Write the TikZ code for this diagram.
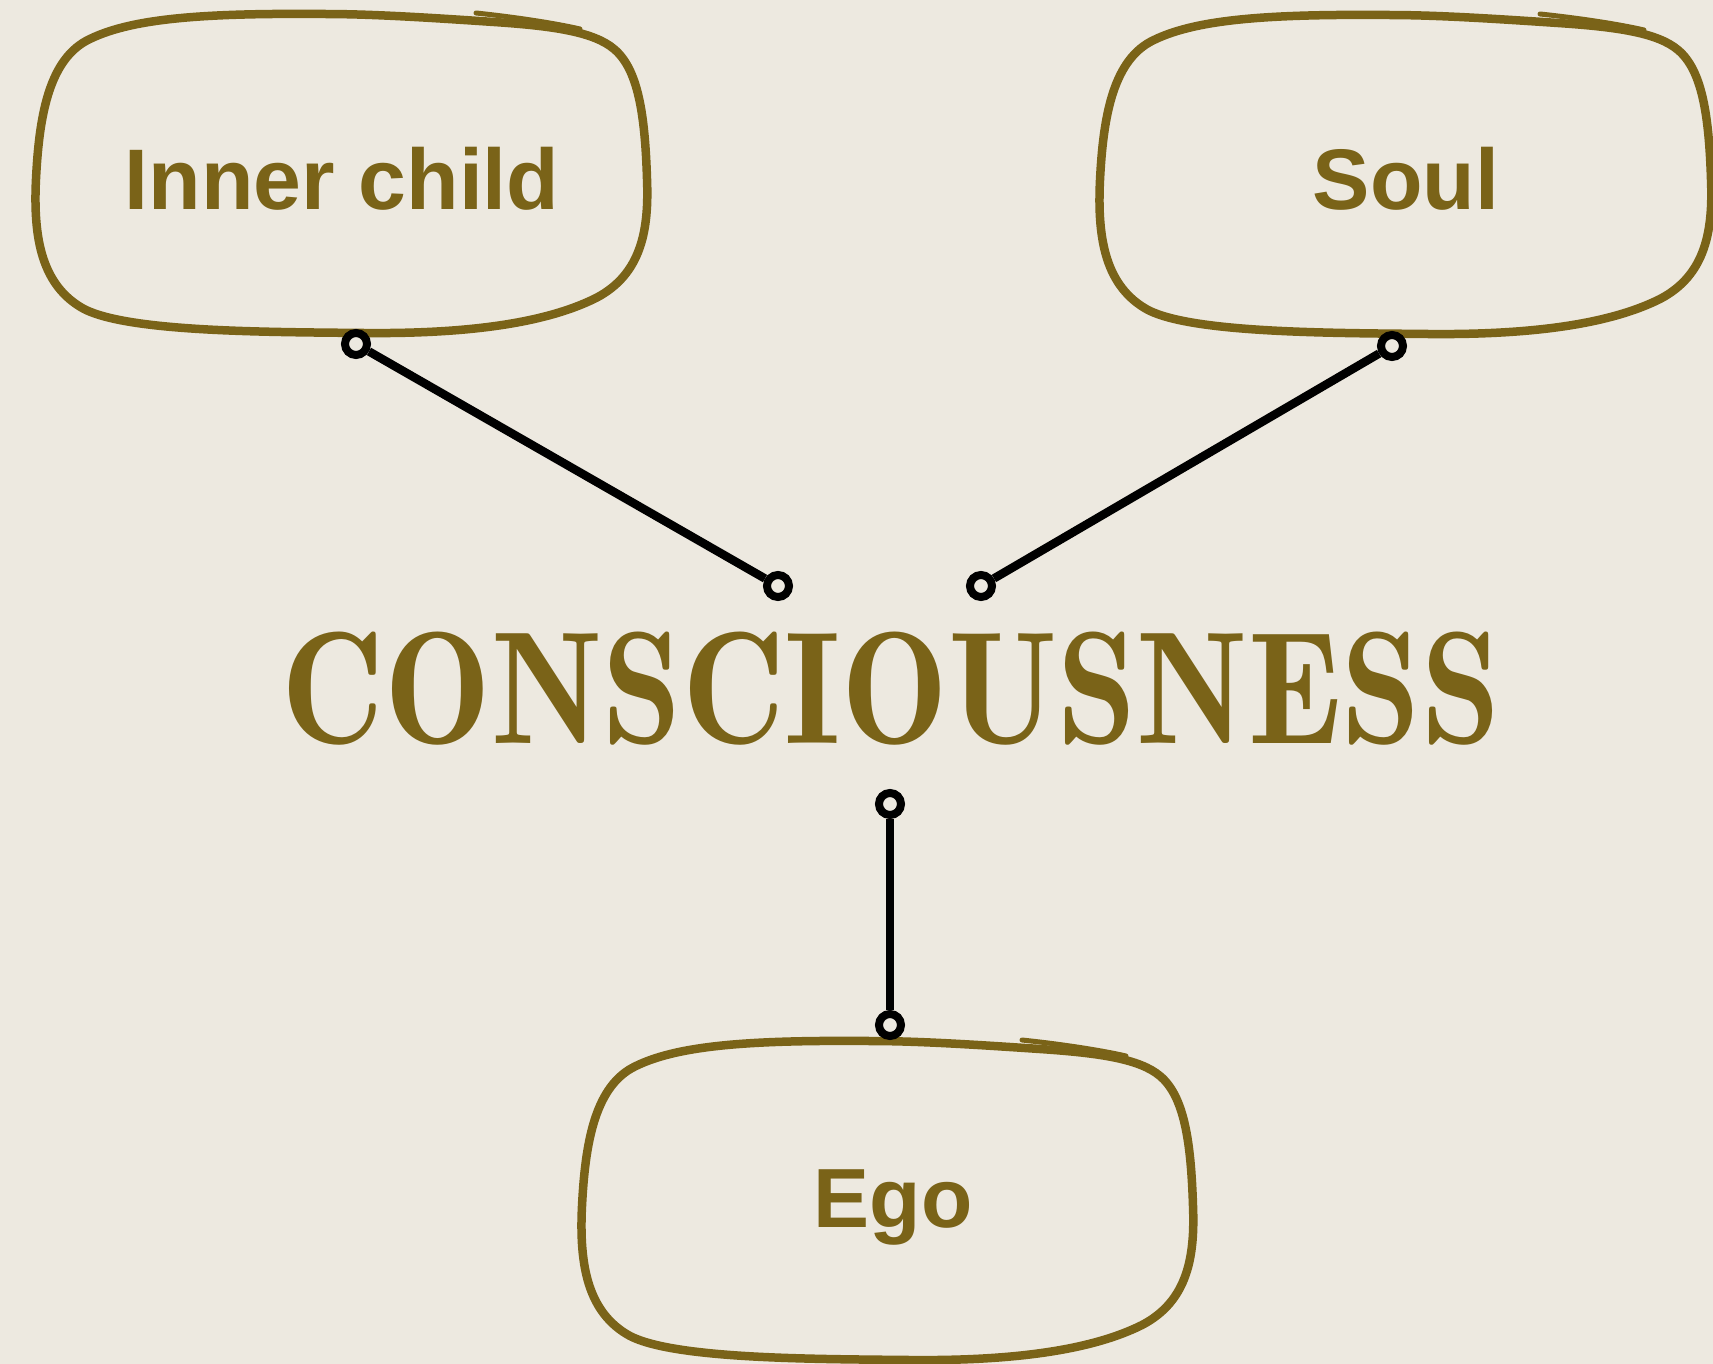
\documentclass[tikz,border=0pt]{standalone}
\usepackage{fontspec}
\newfontfamily\labelfont{Liberation Sans}
\newfontfamily\consfont{lmromandemi10-regular.otf}
\definecolor{bgpaper}{RGB}{237,233,224}
\definecolor{inkolive}{RGB}{122,99,24}
\newcommand\blobat[1]{%
  \begin{scope}[shift={#1}]
    \draw[blobline] (290,0) .. controls (170,-1) and (95,4) .. (52,27)
      .. controls (14,48) and (5,105) .. (2,165)
      .. controls (-1,225) and (8,272) .. (50,295)
      .. controls (95,318) and (230,318) .. (330,319)
      .. controls (430,320) and (510,310) .. (562,284)
      .. controls (608,260) and (615,215) .. (613,165)
      .. controls (611,100) and (604,55) .. (580,35)
      .. controls (560,18) and (520,12) .. (460,8)
      .. controls (400,4) and (340,0) .. (290,0);
    \draw[blobline, line width=5pt] (442,-1) .. controls (480,3) and (520,9) .. (546,15);
    \draw[blobline, line width=4pt] (505,9) -- (542,17);
  \end{scope}}
\begin{document}
\begin{tikzpicture}[x=1pt,y=-1pt,
  blobline/.style={draw=inkolive, line width=8.5pt, line cap=round, line join=round},
  boxlabel/.style={text=inkolive, font=\labelfont\bfseries\fontsize{86}{86}\selectfont, inner sep=0pt, anchor=base},
  pin/.style={circle, draw=black, fill=bgpaper, line width=8pt, minimum size=22pt, inner sep=0pt},
  link/.style={draw=black, line width=8.5pt}]
\fill[bgpaper] (0,0) rectangle (1713,1364);
\useasboundingbox (0,0) rectangle (1713,1364);

% hand-drawn frames
\blobat{(34,14)}
\blobat{(1098,15)}
\blobat{(580,1041)}

% labels
\node[boxlabel] (inner) at (342,210) {Inner child};
\node[boxlabel] (soul) at (1406,210) {Soul};
\node[boxlabel, font=\labelfont\bfseries\fontsize{84}{84}\selectfont] (ego) at (893,1227) {Ego};
\node[text=inkolive, inner sep=0pt, anchor=base, font=\consfont\fontsize{160}{160}\selectfont] (cons) at (891,743) {\scalebox{0.89}[1]{CONSCIOUSNESS}};

% connector ends
\node[pin] (c1a) at (356,344) {};
\node[pin] (c1b) at (778,586) {};
\node[pin] (c2a) at (1392,346) {};
\node[pin] (c2b) at (981,586) {};
\node[pin] (c3a) at (890,804) {};
\node[pin] (c3b) at (890,1025) {};

\draw[link] (c1a) -- (c1b);
\draw[link] (c2a) -- (c2b);
\draw[link] (c3a) -- (c3b);
\end{tikzpicture}
\end{document}
